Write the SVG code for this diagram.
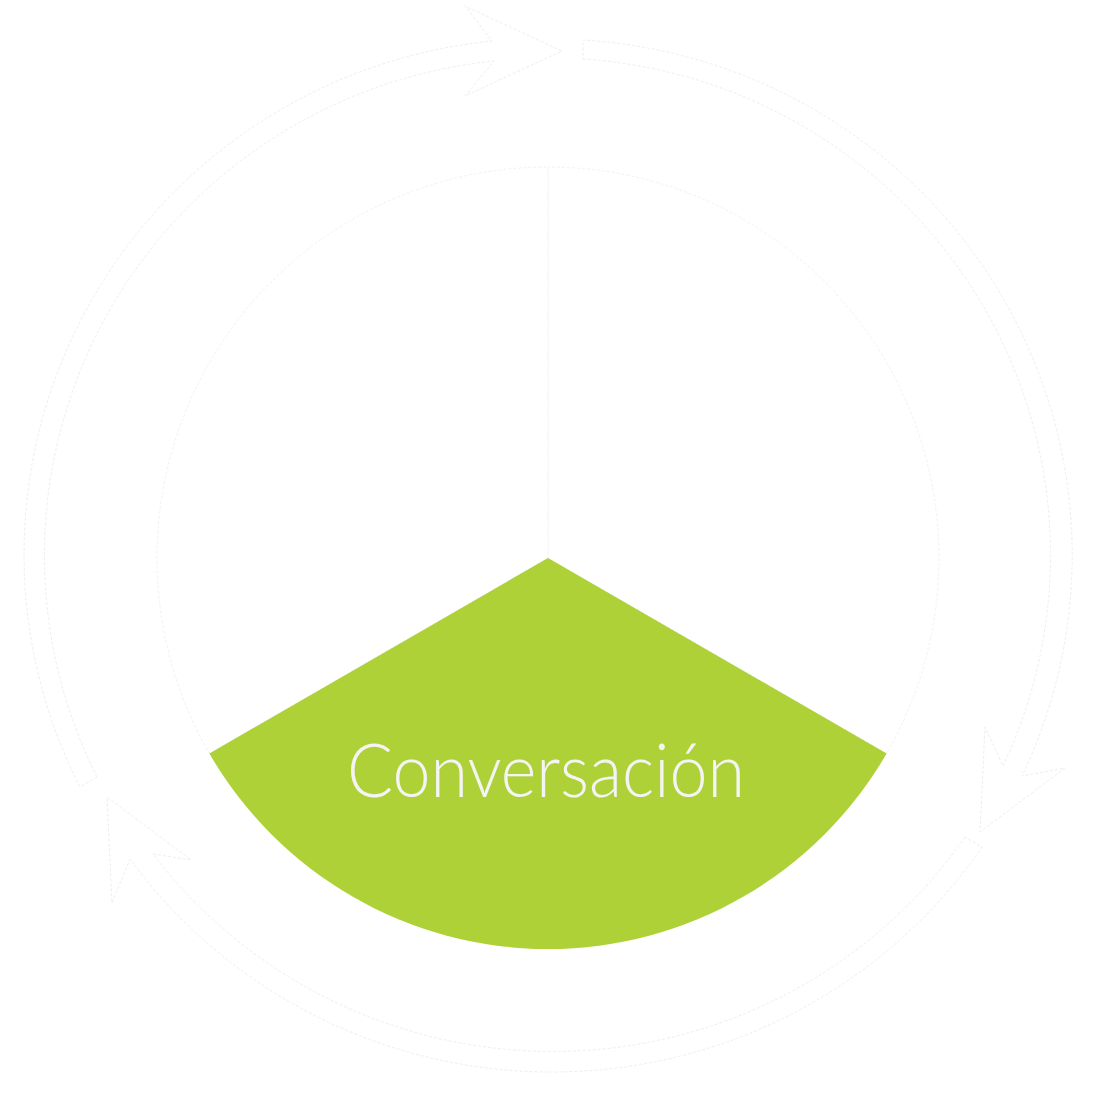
<svg xmlns="http://www.w3.org/2000/svg" width="1099" height="1114" viewBox="0 0 1099 1114">
  <style>
    .arrow { fill: #ffffff; stroke: #eceef0; stroke-width: 1; stroke-dasharray: 3 2; }
    .sector { fill: #ffffff; stroke: #f1f2f3; stroke-width: 1; stroke-dasharray: 3 2; }
    .green { fill: #aed138; stroke: none; }
    .label { font-family: Lato, "Open Sans", "Liberation Sans", sans-serif; font-weight: 300; font-size: 74px; fill: #f4f4f4; }
  </style>
  <rect width="1099" height="1114" fill="#ffffff"/>
  <g id="connectors">
    <path id="arrow-top" class="arrow" d="M 97 777 A 501 497 0 0 1 494 61 L 465 96 L 562 51 L 465 6 L 492 41 A 521 516 0 0 0 80 787 Z"/>
    <path id="arrow-right" class="arrow" d="M 583 59 A 501 497 0 0 1 1003 766 L 985 727 L 980 832 L 1065 768 L 1022 776 A 521 516 0 0 0 583 40 Z"/>
    <path id="arrow-bottom" class="arrow" d="M 965 837 A 501 497 0 0 1 153 854 L 191 860 L 107 797 L 112 903 L 130 859 A 521 516 0 0 0 982 847 Z"/>
  </g>
  <g id="sector-right">
    <path class="sector" d="M 548 558 L 548 167 A 391 391 0 0 1 886.6 753.5 Z"/>
  </g>
  <g id="sector-left">
    <path class="sector" d="M 548 558 L 209.4 753.5 A 391 391 0 0 1 548 167 Z"/>
  </g>
  <g id="sector-conversacion">
    <path class="green" d="M 548 558 L 886.6 753.5 A 391 391 0 0 1 209.4 753.5 Z"/>
    <text class="label" x="546" y="797" text-anchor="middle" textLength="398" lengthAdjust="spacingAndGlyphs">Conversación</text>
  </g>
</svg>
